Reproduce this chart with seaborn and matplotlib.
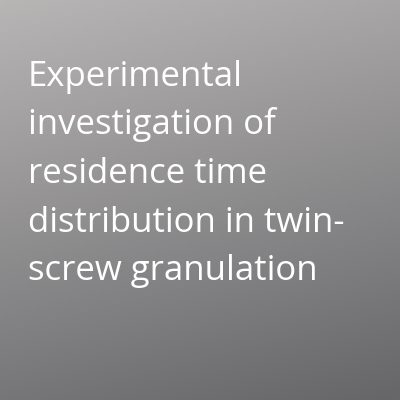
import numpy as np
import seaborn as sns
import matplotlib.pyplot as plt

title_lines = ["Experimental", "investigation of", "residence time", "distribution in twin-", "screw granulation"]
top_color = [0.72, 0.71, 0.71]
bottom_color = [0.40, 0.40, 0.41]

sns.set_theme(style="white")
plt.rcParams['font.family'] = ['Open Sans', 'DejaVu Sans']

fig = plt.figure(figsize=(4, 4), dpi=100)
ax = fig.add_axes([0, 0, 1, 1])
ax.set_axis_off()

# diagonal gradient, light top-left to dark bottom-right
yy, xx = np.mgrid[0:1:200j, 0:1:200j]
t = np.clip(0.8 * yy + 0.2 * xx, 0, 1)[..., None]
grad = (1 - t) * np.array(top_color) + t * np.array(bottom_color)
ax.imshow(grad, extent=[0, 400, 400, 0], aspect='auto')
ax.set_xlim(0, 400)
ax.set_ylim(400, 0)

for i, line in enumerate(title_lines):
    ax.text(28, 86 + i * 48.5, line, color='white', fontsize=25, ha='left', va='baseline')

fig.savefig("out.png", dpi=100)
